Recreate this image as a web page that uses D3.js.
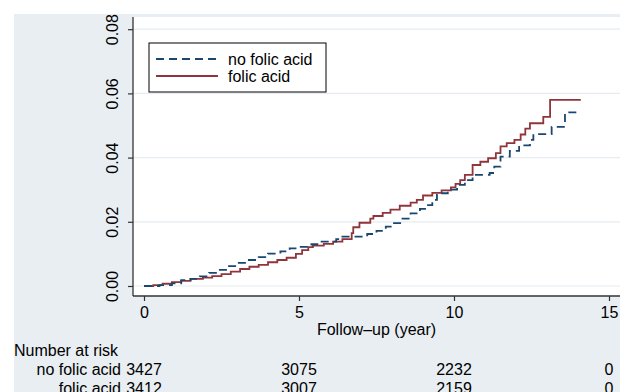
<!DOCTYPE html>
<html>
<head>
<meta charset="utf-8">
<script src="https://cdn.jsdelivr.net/npm/d3@7"></script>
<style>
  html, body { margin: 0; padding: 0; background: #fff; }
  svg { display: block; }
  text { font-family: "Liberation Sans", Arial, Helvetica, sans-serif; fill: #000; }
</style>
</head>
<body>
<svg id="chart" width="620" height="392"></svg>
<script>
// ---- data ----
const seriesNames = ["no folic acid", "folic acid"];
const noFolicTimes = [0, 0.5, 0.9, 1.2, 1.5, 1.8, 2.1, 2.4, 2.7, 3.0, 3.3, 3.7, 4.0, 4.4, 4.7, 5.0, 5.4, 5.7, 6.2, 6.4, 7.2, 7.5, 7.8, 8.0, 8.3, 8.6, 8.9, 9.1, 9.3, 9.45, 9.8, 10.1, 10.35, 10.6, 11.15, 11.3, 11.5, 11.8, 12.1, 12.45, 12.56, 13.15, 13.58, 13.96];
const noFolicValues = [0, 0.0003, 0.0008, 0.0018, 0.0022, 0.0030, 0.0041, 0.0050, 0.0062, 0.0072, 0.0081, 0.0090, 0.0101, 0.0108, 0.0117, 0.0122, 0.0130, 0.0138, 0.0146, 0.0154, 0.0162, 0.0172, 0.0185, 0.0196, 0.0210, 0.0226, 0.0240, 0.0252, 0.0268, 0.0289, 0.0300, 0.0315, 0.0330, 0.0346, 0.0352, 0.0372, 0.0403, 0.0421, 0.0438, 0.0455, 0.0473, 0.0496, 0.0541, 0.0541];
const folicTimes = [0, 0.3, 0.6, 0.9, 1.2, 1.5, 1.9, 2.2, 2.5, 2.8, 3.1, 3.4, 3.7, 4.0, 4.3, 4.6, 4.9, 5.1, 5.3, 5.45, 5.8, 6.1, 6.4, 6.7, 6.75, 6.95, 7.3, 7.4, 7.7, 7.95, 8.25, 8.6, 8.8, 9.0, 9.3, 9.6, 9.9, 10.05, 10.2, 10.35, 10.6, 10.85, 11.1, 11.35, 11.5, 11.7, 11.95, 12.15, 12.3, 12.45, 12.88, 13.1, 14.09];
const folicValues = [0, 0.0003, 0.0007, 0.0012, 0.0016, 0.0022, 0.0026, 0.0031, 0.0037, 0.0045, 0.0053, 0.0060, 0.0066, 0.0074, 0.0081, 0.0088, 0.0100, 0.0112, 0.0121, 0.0126, 0.0131, 0.0138, 0.0146, 0.0165, 0.0183, 0.0197, 0.0210, 0.0218, 0.0228, 0.0238, 0.0250, 0.0260, 0.0268, 0.0282, 0.0290, 0.0298, 0.0307, 0.0318, 0.0330, 0.0346, 0.0377, 0.0387, 0.0398, 0.0414, 0.0435, 0.0445, 0.0455, 0.0472, 0.0490, 0.0507, 0.0527, 0.0580, 0.0580];
const xTicks = [0, 5, 10, 15];
const yTicks = [0, 0.02, 0.04, 0.06, 0.08];
const riskTimes = [0, 5, 10, 15];
const noFolicRisk = [3427, 3075, 2232, 0];
const folicRisk = [3412, 3007, 2159, 0];
const xTitle = "Follow\u2013up (year)";
const riskTitle = "Number at risk";

// ---- drawing ----
const svg = d3.select("#chart");
const W = 620, H = 392;
const bg = "#e9eef2";
const plotL = 133, plotT = 17, plotB = 296;

svg.append("rect").attr("x", 14).attr("y", 14).attr("width", W - 14).attr("height", H - 14).attr("fill", bg);
svg.append("rect").attr("x", plotL).attr("y", plotT).attr("width", W - plotL).attr("height", plotB - plotT).attr("fill", "#fff");

const x = d3.scaleLinear().domain([0, 15]).range([144, 609]);
const y = d3.scaleLinear().domain([0, 0.08]).range([286, 29.2]);

// gridlines
svg.append("g").selectAll("line").data(yTicks).join("line")
  .attr("x1", plotL).attr("x2", W)
  .attr("y1", d => y(d)).attr("y2", d => y(d))
  .attr("stroke", "#e6ecf1").attr("stroke-width", 1.2);

// axes
const yAxis = d3.axisLeft(y).tickValues(yTicks).tickSize(5).tickFormat(d3.format(".2f"));
const gy = svg.append("g").attr("transform", `translate(${plotL},0)`).call(yAxis);
gy.select(".domain").remove();
gy.selectAll(".tick line").attr("stroke", "#333").attr("stroke-width", 1.2);
gy.selectAll(".tick text")
  .attr("font-size", 16).attr("x", 0).attr("dy", null)
  .attr("text-anchor", "middle")
  .attr("transform", "translate(-15,0) rotate(-90)")
  .attr("fill", "#000");

const xAxis = d3.axisBottom(x).tickValues(xTicks).tickSize(5).tickFormat(d3.format("d"));
const gx = svg.append("g").attr("transform", `translate(0,${plotB})`).call(xAxis);
gx.select(".domain").remove();
gx.selectAll(".tick line").attr("stroke", "#333").attr("stroke-width", 1.2);
gx.selectAll(".tick text").attr("font-size", 16).attr("y", 22).attr("dy", null).attr("fill", "#000");

svg.append("line").attr("x1", plotL).attr("x2", plotL).attr("y1", plotT).attr("y2", plotB)
  .attr("stroke", "#333").attr("stroke-width", 1.3);
svg.append("line").attr("x1", plotL).attr("x2", W).attr("y1", plotB).attr("y2", plotB)
  .attr("stroke", "#333").attr("stroke-width", 1.3);

// curves
const line = d3.line().x(d => x(d[0])).y(d => y(d[1])).curve(d3.curveStepAfter);
const blueData = noFolicTimes.map((t, i) => [t, noFolicValues[i]]);
const redData = folicTimes.map((t, i) => [t, folicValues[i]]);
const blue = "#1a476f", red = "#90353b";

svg.append("path").datum(redData).attr("d", line).attr("fill", "none")
  .attr("stroke", red).attr("stroke-width", 1.8);
svg.append("path").datum(blueData).attr("d", line).attr("fill", "none")
  .attr("stroke", blue).attr("stroke-width", 1.8).attr("stroke-dasharray", "8,5");

// legend
const lg = svg.append("g");
lg.append("rect").attr("x", 149).attr("y", 43).attr("width", 177).attr("height", 49)
  .attr("fill", "#fff").attr("stroke", "#000").attr("stroke-width", 1);
const legendItems = [
  { name: seriesNames[0], color: blue, dash: "8,5", yy: 59 },
  { name: seriesNames[1], color: red, dash: null, yy: 76 }
];
legendItems.forEach(it => {
  lg.append("line").attr("x1", 156).attr("x2", 218).attr("y1", it.yy).attr("y2", it.yy)
    .attr("stroke", it.color).attr("stroke-width", 1.8).attr("stroke-dasharray", it.dash);
  lg.append("text").attr("x", 228).attr("y", it.yy + 5.5).attr("font-size", 16).text(it.name);
});

// x title
svg.append("text").attr("x", (x(0) + x(15)) / 2).attr("y", 335).attr("text-anchor", "middle")
  .attr("font-size", 16).text(xTitle);

// number at risk
svg.append("text").attr("x", 14).attr("y", 356).attr("font-size", 16).text(riskTitle);
const rows = [
  { name: seriesNames[0], vals: noFolicRisk, yy: 375 },
  { name: seriesNames[1], vals: folicRisk, yy: 394 }
];
rows.forEach(r => {
  svg.append("text").attr("x", 121).attr("y", r.yy).attr("text-anchor", "end")
    .attr("font-size", 16).text(r.name);
  svg.append("g").selectAll("text").data(riskTimes).join("text")
    .attr("x", (d) => x(d)).attr("y", r.yy).attr("text-anchor", "middle")
    .attr("font-size", 16).text((d, i) => r.vals[i]);
});
</script>
</body>
</html>
